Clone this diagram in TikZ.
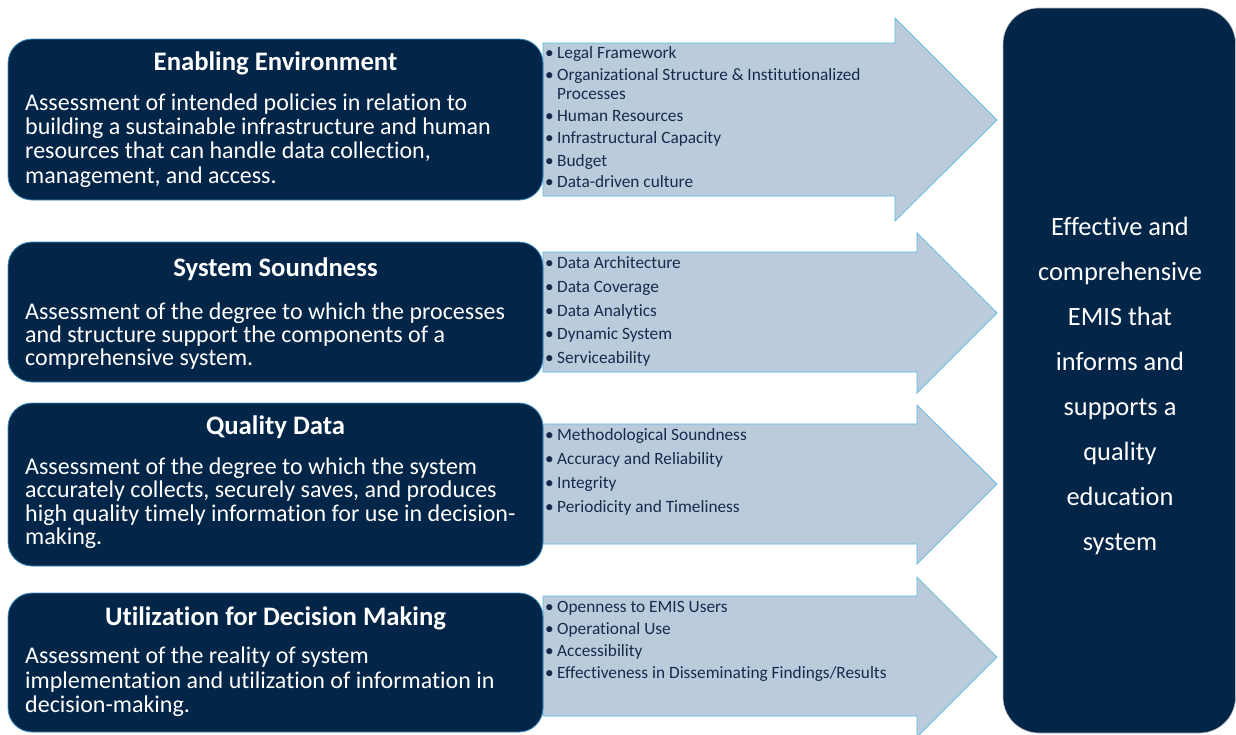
\documentclass[tikz,border=0pt]{standalone}
\usepackage{fontspec}
\setmainfont[Ligatures={NoCommon,NoRequired,NoContextual},RawFeature={-liga;-clig;-dlig}]{Carlito}
\definecolor{navy}{RGB}{3,37,72}
\definecolor{navyedge}{RGB}{60,140,190}
\definecolor{arrowfill}{RGB}{186,204,220}
\definecolor{arrowedge}{RGB}{90,185,225}
\definecolor{listtext}{RGB}{22,42,75}
\begin{document}
\begin{tikzpicture}[x=1pt,y=-1pt,
  leftbox/.style={fill=navy,draw=navyedge,line width=0.8pt,rounded corners=24pt},
  bigbox/.style={fill=navy,draw=gray!55,line width=0.6pt,rounded corners=36pt},
  arrowshape/.style={fill=arrowfill,draw=arrowedge,line width=0.7pt},
  titletext/.style={text=white,font=\bfseries\fontsize{26.7}{26.7}\selectfont,anchor=base,inner sep=0pt},
  bodytext/.style={text=white,anchor=base west,inner sep=0pt},
  listtext/.style={text=listtext,anchor=base west,inner sep=0pt},
  righttext/.style={text=white,anchor=base,inner sep=0pt}]
\useasboundingbox (0,0) rectangle (1236,734);
\fill[white] (0,0) rectangle (1236,734);
% arrows
\draw[arrowshape] (543,43) -- (895,43) -- (895,18) -- (997,120) -- (895,221) -- (895,196) -- (543,196) -- cycle;
\draw[arrowshape] (543,252) -- (917,252) -- (917,233) -- (997,313) -- (917,393) -- (917,372) -- (543,372) -- cycle;
\draw[arrowshape] (543,424) -- (917,424) -- (917,405) -- (997,484) -- (917,564) -- (917,544) -- (543,544) -- cycle;
\draw[arrowshape] (543,596) -- (917,596) -- (917,577) -- (997,657) -- (917,737) -- (917,716) -- (543,716) -- cycle;
% left boxes
\draw[leftbox] (8,39) rectangle (543,200);
\draw[leftbox] (8,242) rectangle (543,382);
\draw[leftbox] (8,403) rectangle (543,566);
\draw[leftbox] (8,593) rectangle (543,732);
% right box
\draw[bigbox] (1003,8) rectangle (1235.5,733);
% titles
\node[titletext] (t1) at (275.5,70.5) {Enabling Environment};
\node[titletext] (t2) at (275.5,276.5) {System Soundness};
\node[titletext] (t3) at (275.5,434.5) {Quality Data};
\node[titletext] (t4) at (275.5,625.5) {Utilization for Decision Making};
% bodies
\node[bodytext] (b1) at (25,110.5) {\parbox[t]{515pt}{\fontsize{24}{24.2}\selectfont\raggedright
Assessment of intended policies in relation to\\
building a sustainable infrastructure and human\\
resources that can handle data collection,\\
management, and access.}};
\node[bodytext] (b2) at (25,319.5) {\parbox[t]{515pt}{\fontsize{24}{23}\selectfont\raggedright
Assessment of the degree to which the processes\\
and structure support the components of a\\
comprehensive system.}};
\node[bodytext] (b3) at (25,474.5) {\parbox[t]{515pt}{\fontsize{24}{23.3}\selectfont\raggedright
Assessment of the degree to which the system\\
accurately collects, securely saves, and produces\\
high quality timely information for use in decision-\\
making.}};
\node[bodytext] (b4) at (25,663.5) {\parbox[t]{515pt}{\fontsize{24}{24.5}\selectfont\raggedright
Assessment of the reality of system\\
implementation and utilization of information in\\
decision-making.}};
% lists
\newcommand{\bul}{\makebox[12pt][l]{•}}
\newcommand{\nobul}{\makebox[12pt][l]{}}
\node[listtext] (l1) at (545,58.5) {\parbox[t]{360pt}{\fontsize{17.3}{19}\selectfont\raggedright
\bul Legal Framework\\[3.3pt]
\bul Organizational Structure \& Institutionalized\\
\nobul Processes\\[3pt]
\bul Human Resources\\[3pt]
\bul Infrastructural Capacity\\[3.5pt]
\bul Budget\\[2.5pt]
\bul Data-driven culture}};
\node[listtext] (l2) at (545,268.5) {\parbox[t]{360pt}{\fontsize{17.3}{23.75}\selectfont\raggedright
\bul Data Architecture\\
\bul Data Coverage\\
\bul Data Analytics\\
\bul Dynamic System\\
\bul Serviceability}};
\node[listtext] (l3) at (545,440.5) {\parbox[t]{360pt}{\fontsize{17.3}{24}\selectfont\raggedright
\bul Methodological Soundness\\
\bul Accuracy and Reliability\\
\bul Integrity\\
\bul Periodicity and Timeliness}};
\node[listtext] (l4) at (545,612.5) {\parbox[t]{360pt}{\fontsize{17.3}{22}\selectfont\raggedright
\bul Openness to EMIS Users\\
\bul Operational Use\\
\bul Accessibility\\
\bul Effectiveness in Disseminating Findings/Results}};
% right text
\begin{scope}[every node/.append style={righttext,font=\fontsize{26.4}{26.4}\selectfont}]
\node (r1) at (1120,235.5) {Effective and};
\node (r2) at (1120,280.5) {comprehensive};
\node (r3) at (1120,325.5) {EMIS that};
\node (r4) at (1120,370.5) {informs and};
\node (r5) at (1120,415.5) {supports a};
\node (r6) at (1120,460.5) {quality};
\node (r7) at (1120,505.5) {education};
\node (r8) at (1120,550.5) {system};
\end{scope}
\end{tikzpicture}
\end{document}
